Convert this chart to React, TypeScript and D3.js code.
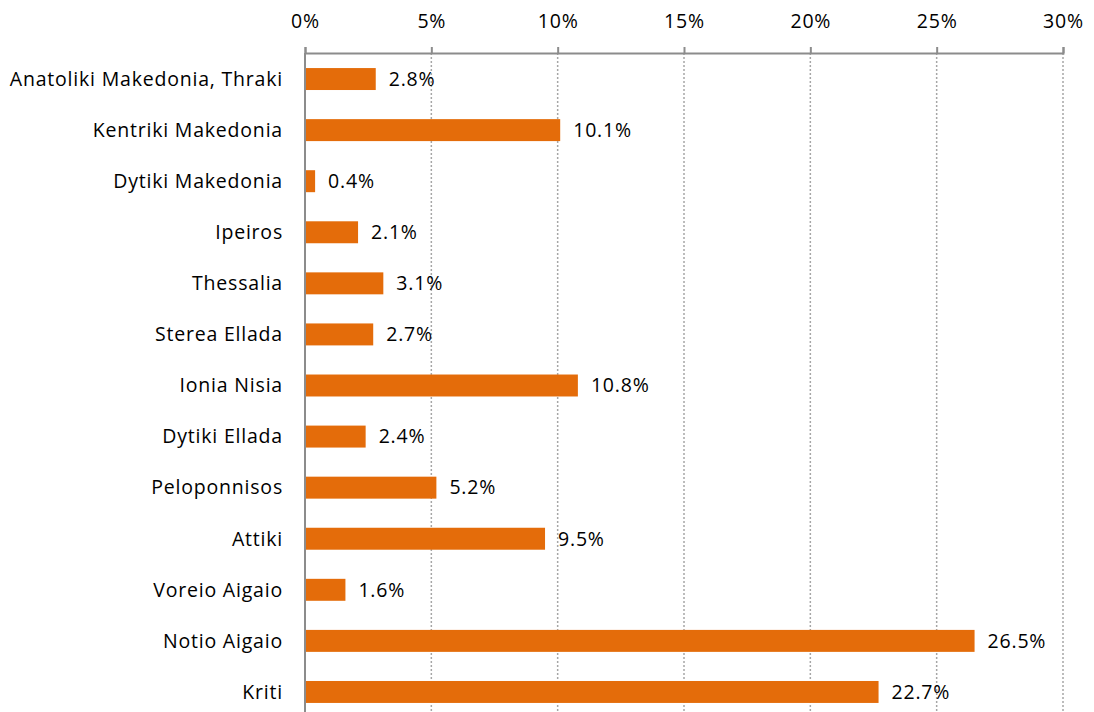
import React, { useEffect, useRef } from 'react';
import * as d3 from 'd3';

const regions = [
  'Anatoliki Makedonia, Thraki',
  'Kentriki Makedonia',
  'Dytiki Makedonia',
  'Ipeiros',
  'Thessalia',
  'Sterea Ellada',
  'Ionia Nisia',
  'Dytiki Ellada',
  'Peloponnisos',
  'Attiki',
  'Voreio Aigaio',
  'Notio Aigaio',
  'Kriti',
];
const shares = [2.8, 10.1, 0.4, 2.1, 3.1, 2.7, 10.8, 2.4, 5.2, 9.5, 1.6, 26.5, 22.7];
const xTicks = [0, 5, 10, 15, 20, 25, 30];

const FONT = '"Open Sans", "Liberation Sans", sans-serif';
const FS = 19.5;
const LS = 0.8;

const App: React.FC = () => {
  const ref = useRef<SVGSVGElement>(null);

  useEffect(() => {
    if (!ref.current) return;
    const svg = d3.select(ref.current);
    svg.selectAll('*').remove();

    const x = d3.scaleLinear().domain([0, 30]).range([305, 1063]);
    const y = d3.scaleBand<string>()
      .domain(regions)
      .range([53.5, 717.5])
      .paddingInner(0.57)
      .paddingOuter(0.285);

    const data = regions.map((r, i) => ({ name: r, value: shares[i] }));

    // gridlines
    svg.append('g')
      .selectAll('line')
      .data(xTicks.slice(1))
      .enter()
      .append('line')
      .attr('x1', d => x(d))
      .attr('x2', d => x(d))
      .attr('y1', 53)
      .attr('y2', 712)
      .attr('stroke', '#a6a6a6')
      .attr('stroke-width', 1.5)
      .attr('stroke-dasharray', '2,2');

    // bars
    svg.append('g')
      .selectAll('rect')
      .data(data)
      .enter()
      .append('rect')
      .attr('x', x(0))
      .attr('y', d => y(d.name) as number)
      .attr('width', d => x(d.value) - x(0))
      .attr('height', y.bandwidth())
      .attr('fill', '#e46c0a');

    // value labels
    svg.append('g')
      .selectAll('text')
      .data(data)
      .enter()
      .append('text')
      .attr('x', d => x(d.value) + 13)
      .attr('y', d => (y(d.name) as number) + y.bandwidth() / 2)
      .attr('dy', '0.35em')
      .attr('font-family', FONT)
      .attr('font-size', FS)
      .attr('letter-spacing', LS)
      .attr('fill', '#000')
      .text(d => d.value.toFixed(1) + '%');

    // category labels
    svg.append('g')
      .selectAll('text')
      .data(regions)
      .enter()
      .append('text')
      .attr('x', 283)
      .attr('y', d => (y(d) as number) + y.bandwidth() / 2)
      .attr('dy', '0.35em')
      .attr('text-anchor', 'end')
      .attr('font-family', FONT)
      .attr('font-size', FS)
      .attr('letter-spacing', LS)
      .attr('fill', '#000')
      .text(d => d);

    // top axis
    const axis = svg.append('g')
      .attr('transform', 'translate(0,53)')
      .call(d3.axisTop(x).tickValues(xTicks).tickSize(6).tickPadding(19).tickFormat(d => `${d}%`));
    axis.select('.domain').attr('stroke', '#8c8c8c').attr('stroke-width', 2);
    axis.selectAll('.tick line').attr('stroke', '#8c8c8c').attr('stroke-width', 2);
    axis.selectAll('.tick text')
      .attr('font-family', FONT)
      .attr('font-size', FS)
      .attr('letter-spacing', LS)
      .attr('fill', '#000');

    // vertical axis line
    svg.append('line')
      .attr('x1', x(0))
      .attr('x2', x(0))
      .attr('y1', 53)
      .attr('y2', 712)
      .attr('stroke', '#8c8c8c')
      .attr('stroke-width', 2);
  }, []);

  return (
    <svg
      ref={ref}
      width={1094}
      height={712}
      style={{ position: 'absolute', left: 0, top: 0, background: '#fff' }}
    />
  );
};

export default App;
